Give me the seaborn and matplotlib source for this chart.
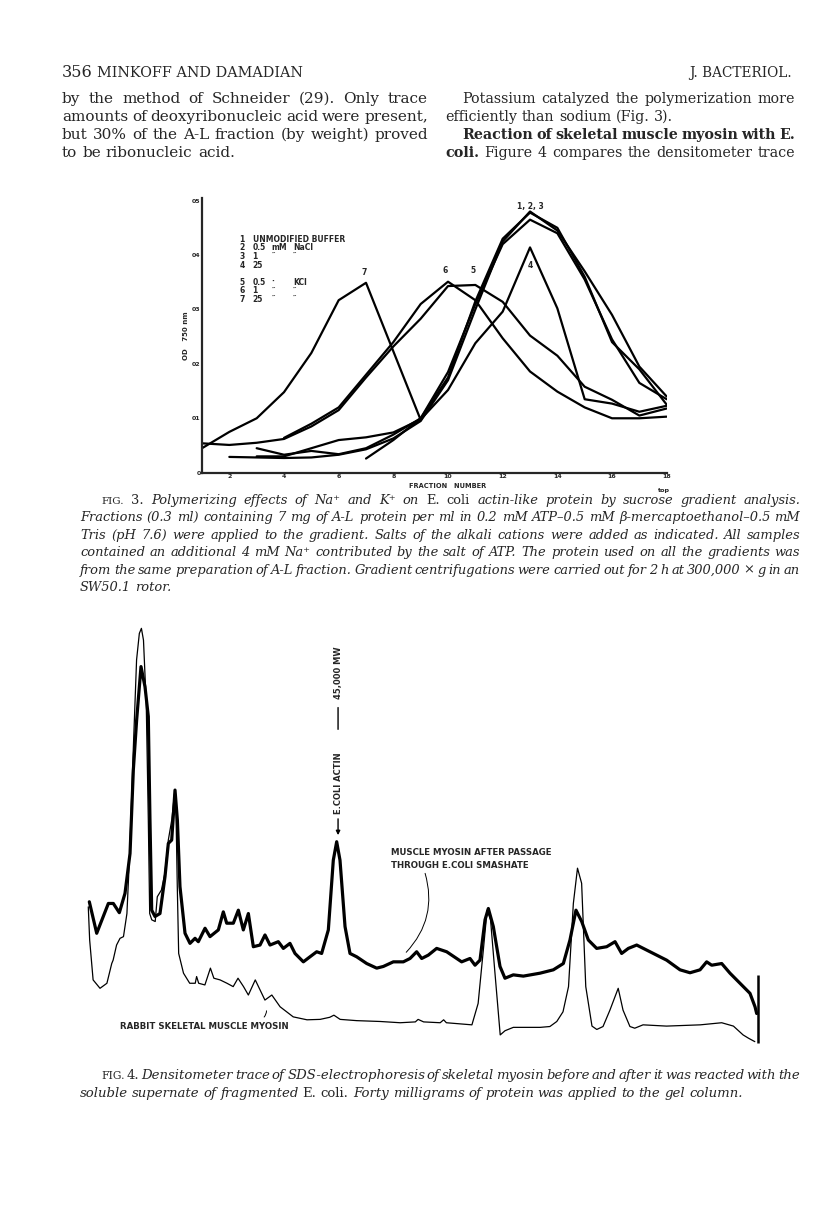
import numpy as np
import matplotlib
matplotlib.use("Agg")
import matplotlib.pyplot as plt
import seaborn as sns

nan = np.nan

# ---- Fig. 3: OD 750 nm of each sucrose-gradient fraction ----
fractions = list(range(1, 19))
od_1 = [nan, .029, .028, .027, .028, .033, .043, .063, .095, .170, .300, .425, .480, .445, .370, .290, .195, .140]
od_2 = [nan, nan, .045, .033, .040, .034, .045, .070, .100, .185, .310, .420, .465, .440, .355, .245, .165, .135]
od_3 = [nan, nan, nan, nan, nan, nan, .026, .060, .100, .175, .315, .430, .478, .450, .360, .240, .190, .125]
od_4 = [nan, nan, .030, .030, .045, .060, .065, .074, .098, .152, .238, .296, .414, .302, .135, .127, .112, .123]
od_5 = [.054, .051, .055, .062, .085, .115, .175, .232, .283, .343, .345, .314, .252, .215, .158, .134, .105, .118]
od_6 = [nan, nan, nan, .064, .090, .120, .180, .240, .310, .351, .317, .247, .186, .149, .120, .100, .100, .103]
od_7 = [.045, .075, .100, .148, .220, .317, .349, .223, .097, nan, nan, nan, nan, nan, nan, nan, nan, nan]
gradient_curves = [od_1, od_2, od_3, od_4, od_5, od_6, od_7]

curve_labels = ["1, 2, 3", "4", "5", "6", "7"]
label_fraction = [13.0, 13.0, 10.9, 9.9, 6.95]
label_od = [0.490, 0.380, 0.372, 0.372, 0.368]

key_number = ["1", "2", "3", "4", "5", "6", "7"]
key_conc = ["UNMODIFIED BUFFER", "0.5", "1", "25", "0.5", "1", "25"]
key_unit = ["", "mM", "\u2033", "", "\u00b7", "\u2033", "\u2033"]
key_salt = ["", "NaCl", "\u2033", "", "KCl", "\u2033", "\u2033"]
key_od = [0.429, 0.413, 0.397, 0.381, 0.350, 0.334, 0.319]

od_ticks = [0, 0.1, 0.2, 0.3, 0.4, 0.5]
od_ticklabels = ["0", "01", "02", "03", "04", "05"]

# ---- Fig. 4: densitometer traces (gel position, pen deflection) ----
after_pos = [1.35, 2.42, 4.11, 4.83, 5.70, 6.52, 7.25, 7.73, 8.21, 8.84, 9.42, 9.90, 10.14, 10.39,
             10.87, 11.59, 12.32, 12.80, 13.29, 13.77, 14.11, 14.49, 15.22, 15.94, 16.67, 17.15,
             18.12, 18.84, 20.05, 20.77, 21.26, 22.22, 22.95, 23.67, 24.40, 25.12, 26.09, 26.81,
             27.54, 28.74, 29.47, 30.43, 31.16, 32.37, 33.33, 34.30, 35.02, 35.99, 36.71, 37.20,
             37.68, 38.41, 39.13, 40.10, 41.55, 43.00, 43.96, 45.41, 46.86, 47.83, 48.79, 49.52,
             50.48, 51.69, 53.14, 54.59, 55.31, 56.52, 57.25, 57.97, 58.70, 59.18, 59.90, 60.87,
             61.59, 62.80, 64.25, 66.67, 68.60, 70.05, 71.01, 71.88, 72.71, 73.67, 74.88, 76.33,
             77.54, 78.50, 79.47, 80.68, 83.09, 85.02, 86.96, 88.41, 89.86, 90.82, 91.55, 93.00,
             94.20, 95.65, 97.10, 97.83, 98.07]
after_val = [34.1, 26.6, 33.7, 33.7, 31.5, 36.1, 45.6, 65.5, 77.4, 90.1, 85.3, 78.2, 53.6, 32.1,
             30.6, 31.3, 40.1, 48.0, 48.8, 60.7, 53.6, 37.7, 26.6, 24.2, 25.4, 24.6,
             27.8, 25.8, 27.4, 31.7, 29.0, 29.0, 32.1, 27.4, 31.3, 23.4, 23.8, 26.2,
             23.8, 24.6, 23.0, 24.2, 21.8, 19.8, 21.0, 22.2, 21.8, 27.4, 44.0, 48.4,
             44.0, 28.2, 21.8, 21.0, 19.4, 18.3, 18.7, 19.8, 19.8, 20.6, 22.2, 20.6,
             21.4, 23.0, 22.2, 20.6, 19.8, 20.6, 19.0, 20.2, 29.8, 32.5, 28.2, 18.7,
             15.9, 16.7, 16.4, 17.1, 17.9, 19.4, 25.0, 32.1, 29.4, 25.0, 23.0, 23.4,
             24.6, 21.8, 23.0, 23.8, 21.8, 20.2, 17.9, 17.2, 17.9, 19.8, 19.0, 19.4,
             17.1, 14.7, 12.3, 9.1, 7.5]

rabbit_pos = [1.2, 1.4, 1.9, 2.9, 3.9, 4.6, 4.8, 5.3, 5.8, 6.3, 6.8, 7.2, 7.7, 8.2, 8.6, 8.9, 9.2,
              9.6, 9.9, 10.1, 10.4, 10.9, 11.2, 11.8, 12.3, 12.8, 13.3, 13.7, 13.9, 14.1, 14.3,
              15.0, 15.9, 16.7, 16.9, 17.2, 18.1, 18.9, 19.4, 20.3, 21.3, 22.2, 22.9, 23.7, 24.4,
              25.4, 26.1, 26.8, 27.8, 29.0, 30.9, 32.9, 34.8, 36.2, 36.8, 37.7, 40.1, 43.5, 46.4,
              48.6, 49.0, 49.8, 52.2, 52.7, 53.1, 56.8, 57.7, 58.5, 59.0, 59.5, 60.1, 60.9, 61.6,
              62.8, 66.7, 68.1, 69.1, 70.0, 70.8, 71.5, 72.1, 72.7, 73.3, 74.2, 74.9, 75.8, 76.8,
              78.0, 78.7, 79.7, 80.4, 81.6, 85.0, 89.9, 93.0, 94.7, 96.1, 96.9, 97.8]
rabbit_val = [32.9, 25.0, 15.5, 13.5, 14.7, 19.4, 20.2, 23.8, 25.4, 25.8, 31.3, 45.6, 69.4, 91.7, 98.0, 99.2, 96.4,
              81.3, 53.6, 31.3, 29.8, 29.4, 35.3, 36.9, 40.9, 48.8, 53.6, 59.9, 56.7, 37.7, 21.8,
              17.1, 14.7, 14.7, 16.3, 14.7, 14.3, 18.3, 15.9, 15.5, 14.7, 13.9, 15.9, 13.9, 11.9,
              15.5, 13.1, 10.7, 11.9, 9.1, 6.7, 6.0, 6.1, 6.6, 7.1, 6.1, 5.8, 5.6, 5.3,
              5.5, 6.1, 5.5, 5.3, 6.0, 5.3, 4.8, 9.9, 23.4, 32.1, 29.8, 17.9, 2.4, 3.4,
              4.2, 4.2, 4.4, 5.6, 7.9, 13.9, 33.7, 42.1, 38.5, 13.9, 4.5, 3.7, 4.4, 8.3,
              13.5, 8.3, 4.4, 4.0, 4.8, 4.5, 4.8, 5.3, 4.5, 2.4, 1.6, 0.8]
gel_end_pos = 98.2
gel_end_span = (0.5, 16.7)

W, H = 816, 1227
sns.set_style("white")
plt.rcParams["font.family"] = ["DejaVu Sans"]
fig = plt.figure(figsize=(W / 100, H / 100), dpi=100)
renderer = fig.canvas.get_renderer()

SANSB = dict(family="DejaVu Sans", weight="bold")


def fpos(x, y):
    return x / W, 1 - y / H


def text_width(word, kw):
    t = fig.text(0, 0, word, **kw)
    w = t.get_window_extent(renderer).width
    t.remove()
    return w


def paragraph(lines, x1, y0, dy):
    # lines: list of (x0, runs, justify). One font scale per block so the
    # tightest justified line still fits between x0 and x1.
    prepared = []
    scale = 1.0
    for x0, runs, justify in lines:
        words = [(w, kw) for txt, kw in runs for w in txt.split()]
        widths = [text_width(w, kw) for w, kw in words]
        space = text_width("n", words[0][1]) * 0.35
        natural = sum(widths) + space * (len(words) - 1)
        scale = min(scale, (x1 - x0) / natural)
        prepared.append((x0, words, widths, space, justify))
    for i, (x0, words, widths, space, justify) in enumerate(prepared):
        widths = [w * scale for w in widths]
        if justify:
            gap = (x1 - x0 - sum(widths)) / max(len(words) - 1, 1)
        else:
            gap = space * scale * 1.4
        x = x0
        y = y0 + i * dy
        for (w, kw), wd in zip(words, widths):
            kk = dict(kw)
            kk["size"] = kw["size"] * scale
            fig.text(*fpos(x, y), w, va="baseline", ha="left", **kk)
            x += wd + gap


# ---------------- page header and body text ----------------
SERIF = dict(family="DejaVu Serif", size=11.6)
SERIFB = dict(SERIF, weight="bold")
fig.text(*fpos(62, 77), "356", va="baseline", family="DejaVu Serif", size=11.5)
fig.text(*fpos(97, 77), "MINKOFF AND DAMADIAN", va="baseline", family="DejaVu Serif", size=10.4)
fig.text(*fpos(792, 77), "J. BACTERIOL.", va="baseline", ha="right", family="DejaVu Serif", size=9.8)

paragraph([(62, [("by the method of Schneider (29). Only trace", SERIF)], True),
           (62, [("amounts of deoxyribonucleic acid were present,", SERIF)], True),
           (62, [("but 30% of the A-L fraction (by weight) proved", SERIF)], True),
           (62, [("to be ribonucleic acid.", SERIF)], False)],
          428, 103, 18)
paragraph([(462, [("Potassium catalyzed the polymerization more", SERIF)], True),
           (445, [("efficiently than sodium (Fig. 3).", SERIF)], False),
           (462, [("Reaction of skeletal muscle myosin with E.", SERIFB)], True),
           (445, [("coli.", SERIFB), ("Figure 4 compares the densitometer trace", SERIF)], True)],
          795, 103, 18)

# ---------------- Fig. 3 ----------------
ax1 = fig.add_axes([202 / W, 1 - 472.7 / H, (666.7 - 202) / W, (472.7 - 197.9) / H])
for od in gradient_curves:
    sns.lineplot(x=fractions, y=od, ax=ax1, color="black", linewidth=1.6, legend=False)
ax1.set_xlim(1, 18)
ax1.set_ylim(0, 0.505)
sns.despine(ax=ax1)
for side in ("left", "bottom"):
    ax1.spines[side].set_linewidth(1.6)
ax1.set_xticks(range(2, 19, 2))
ax1.set_xticklabels([str(v) for v in range(2, 19, 2)], fontsize=4.5, **SANSB)
ax1.set_yticks(od_ticks)
ax1.set_yticklabels(od_ticklabels, fontsize=4.5, **SANSB)
ax1.tick_params(direction="in", length=2.5, width=1.6, pad=1.0)
ax1.set_xlabel("")
ax1.set_ylabel("OD   750 nm", fontsize=5, labelpad=2, **SANSB)
ax1.text(10.0, -0.05, "FRACTION   NUMBER", transform=ax1.get_xaxis_transform(), ha="center",
         va="center", fontsize=4.8, **SANSB)
ax1.text(17.9, -0.066, "top", transform=ax1.get_xaxis_transform(), ha="center", va="center",
         fontsize=4.6, **SANSB)
for lab, fx, fy in zip(curve_labels, label_fraction, label_od):
    ax1.text(fx, fy, lab, ha="center", va="center", fontsize=5.5, **SANSB)
for num, conc, unit, salt, y in zip(key_number, key_conc, key_unit, key_salt, key_od):
    ax1.text(2.37, y, num, ha="left", va="center", fontsize=5.5, **SANSB)
    ax1.text(2.85, y, conc, ha="left", va="center", fontsize=5.5, **SANSB)
    ax1.text(3.55, y, unit, ha="left", va="center", fontsize=5.5, **SANSB)
    ax1.text(4.32, y, salt, ha="left", va="center", fontsize=5.5, **SANSB)

CAP = dict(family="DejaVu Serif", size=10.2, style="italic")
CAPR = dict(family="DejaVu Serif", size=10.2)
SC = dict(family="DejaVu Serif", size=8.2)
paragraph([(101, [("FIG.", SC), ("3.", CAPR), ("Polymerizing effects of Na\u207a and K\u207a on", CAP),
                  ("E. coli", CAPR), ("actin-like protein by sucrose gradient analysis.", CAP)], True),
           (80, [("Fractions (0.3 ml) containing 7 mg of A-L protein per ml in 0.2 mM ATP\u20130.5 mM "
                  "\u03b2-mercaptoethanol\u20130.5 mM", CAP)], True),
           (80, [("Tris (pH 7.6) were applied to the gradient. Salts of the alkali cations were added "
                  "as indicated. All samples", CAP)], True),
           (80, [("contained an additional 4 mM Na\u207a contributed by the salt of ATP. The protein used "
                  "on all the gradients was", CAP)], True),
           (80, [("from the same preparation of A-L fraction. Gradient centrifugations were carried out "
                  "for 2 h at 300,000 \u00d7 g in an", CAP)], True),
           (80, [("SW50.1 rotor.", CAP)], False)],
          800, 504, 17.4)

# ---------------- Fig. 4 ----------------
ax2 = fig.add_axes([80 / W, 1 - 1045 / H, 690 / W, 420 / H])
sns.lineplot(x=rabbit_pos, y=rabbit_val, ax=ax2, color="black", linewidth=0.9,
             sort=False, estimator=None)
sns.lineplot(x=after_pos, y=after_val, ax=ax2, color="black", linewidth=2.3,
             sort=False, estimator=None)
ax2.vlines(gel_end_pos, *gel_end_span, color="black", linewidth=1.8)
ax2.set_xlim(0, 100)
ax2.set_ylim(0, 100)
ax2.axis("off")

ax2.text(37.4, 88.6, "45,000 MW", rotation=90, ha="center", va="center", fontsize=6, **SANSB)
ax2.annotate("", xy=(37.4, 74.5), xytext=(37.4, 81.0),
             arrowprops=dict(arrowstyle="-", color="black", lw=1.0))
ax2.text(37.4, 62.4, "E.COLI ACTIN", rotation=90, ha="center", va="center", fontsize=6, **SANSB)
ax2.annotate("", xy=(37.4, 49.3), xytext=(37.4, 54.5),
             arrowprops=dict(arrowstyle="-|>", color="black", lw=1.0, mutation_scale=6))
ax2.text(45.1, 44.3, "MUSCLE MYOSIN AFTER PASSAGE\nTHROUGH E.COLI SMASHATE", ha="left",
         va="center", fontsize=6.2, linespacing=1.5, **SANSB)
ax2.annotate("", xy=(47.0, 21.6), xytext=(49.9, 41.5),
             arrowprops=dict(arrowstyle="-", color="black", lw=0.7,
                             connectionstyle="arc3,rad=-0.3"))
ax2.text(5.8, 4.3, "RABBIT SKELETAL MUSCLE MYOSIN", ha="left", va="center", fontsize=6.2, **SANSB)
ax2.annotate("", xy=(27.0, 8.8), xytext=(26.4, 6.2),
             arrowprops=dict(arrowstyle="-", color="black", lw=0.7,
                             connectionstyle="arc3,rad=0.3"))

paragraph([(101, [("FIG.", SC), ("4.", CAPR), ("Densitometer trace of SDS-electrophoresis of skeletal "
                                             "myosin before and after it was reacted with the", CAP)], True),
           (80, [("soluble supernate of fragmented", CAP), ("E. coli.", CAPR),
                 ("Forty milligrams of protein was applied to the gel column.", CAP)], False)],
          800, 1079, 18)

fig.savefig("out.png", dpi=100, facecolor="white")
